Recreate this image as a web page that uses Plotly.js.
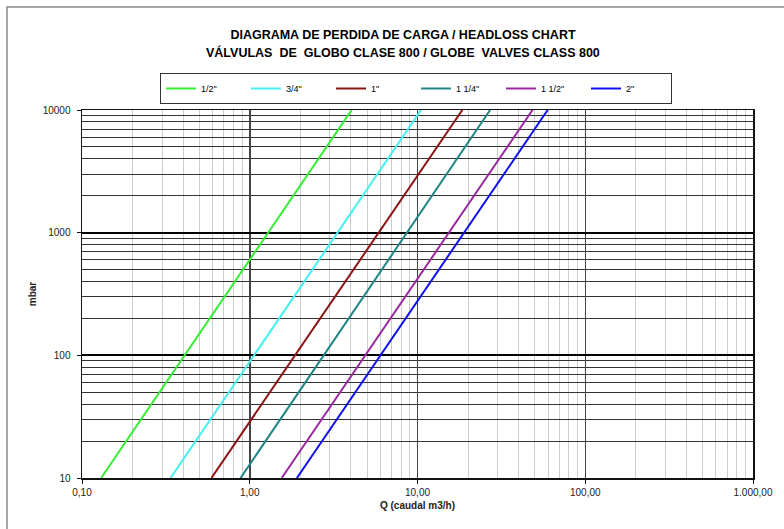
<!DOCTYPE html>
<html>
<head>
<meta charset="utf-8">
<script src="https://cdn.plot.ly/plotly-3.0.1.min.js"></script>
<style>html,body{margin:0;padding:0;background:#fff}#chart{width:784px;height:529px}</style>
</head>
<body>
<div id="chart"></div>
<script>
// Series names
const seriesNames = ['1/2"', '3/4"', '1"', '1 1/4"', '1 1/2"', '2"'];
// Headloss (mbar) at the two ends of every line
const headloss = [10, 10000];
// Flow Q (m3/h) read at 10 mbar and at 10000 mbar
const q_half = [0.130, 4.05];
const q_threeQuarter = [0.337, 10.5];
const q_one = [0.591, 18.5];
const q_oneQuarter = [0.881, 27.1];
const q_oneHalf = [1.55, 48.5];
const q_two = [1.91, 59.7];
const seriesQ = [q_half, q_threeQuarter, q_one, q_oneQuarter, q_oneHalf, q_two];
const seriesColors = ['#33ee33', '#44f0f0', '#8b1414', '#1f8585', '#99299c', '#1010ee'];
// Tick labels
const xTickVals = [0.1, 1, 10, 100, 1000];
const xTickText = ['0,10', '1,00', '10,00', '100,00', '1.000,00'];
const yTickVals = [10, 100, 1000, 10000];
const yTickText = ['10', '100', '1000', '10000'];
const titleLine1 = 'DIAGRAMA DE PERDIDA DE CARGA / HEADLOSS CHART';
const titleLine2 = 'VÁLVULAS  DE  GLOBO CLASE 800 / GLOBE  VALVES CLASS 800';

const traces = seriesNames.map((n, i) => ({
  type: 'scatter', mode: 'lines', name: n,
  x: seriesQ[i], y: headloss,
  line: {color: seriesColors[i], width: 2}
}));

const font = 'Liberation Sans, Arial, sans-serif';
const layout = {
  width: 784, height: 529,
  margin: {l: 82, r: 31, t: 110, b: 51},
  paper_bgcolor: '#fff', plot_bgcolor: '#fff',
  font: {family: font, size: 10, color: '#222'},
  title: {
    text: '<b>' + titleLine1 + '</b>',
    font: {family: font, size: 12.5, color: '#000'},
    x: 0.514, xref: 'container', xanchor: 'center',
    y: 1 - 35/529, yref: 'container', yanchor: 'middle'
  },
  annotations: [{
    text: '<b>' + titleLine2 + '</b>',
    font: {family: font, size: 12.5, color: '#000'},
    xref: 'paper', yref: 'paper', showarrow: false,
    x: (403 - 82) / 671, xanchor: 'center',
    y: (478 - 52) / 368, yanchor: 'middle'
  }],
  showlegend: true,
  legend: {
    orientation: 'h', x: (416 - 82) / 671, xanchor: 'center', y: (478 - 73) / 368, yanchor: 'top',
    bordercolor: '#333', borderwidth: 1, bgcolor: '#fff',
    font: {family: font, size: 9, color: '#000'},
    entrywidth: 40, itemwidth: 30, traceorder: 'normal'
  },
  xaxis: {
    type: 'log', range: [-1, 3],
    tickmode: 'array', tickvals: xTickVals, ticktext: xTickText,
    showgrid: true, gridcolor: '#444', gridwidth: 1.5,
    minor: {tickmode: 'linear', dtick: 'D1', showgrid: true, gridcolor: '#cccccc', gridwidth: 1, ticks: ''},
    showline: true, mirror: true, linecolor: '#111', linewidth: 1.5,
    ticks: 'outside', ticklen: 4, tickcolor: '#111',
    tickfont: {family: font, size: 10, color: '#222'},
    zeroline: false,
    title: {text: '<b>Q (caudal m3/h)</b>', font: {family: font, size: 10, color: '#222'}, standoff: 5}
  },
  yaxis: {
    type: 'log', range: [1, 4],
    tickmode: 'array', tickvals: yTickVals, ticktext: yTickText,
    showgrid: true, gridcolor: '#000', gridwidth: 2,
    minor: {tickmode: 'linear', dtick: 'D1', showgrid: true, gridcolor: '#333', gridwidth: 1, ticks: ''},
    showline: true, mirror: true, linecolor: '#111', linewidth: 1.5,
    ticks: 'outside', ticklen: 4, tickcolor: '#111', ticklabelstandoff: 4,
    tickfont: {family: font, size: 10, color: '#222'},
    zeroline: false,
    title: {text: '<b>mbar</b>', font: {family: font, size: 10, color: '#222'}, standoff: 4}
  },
  shapes: [{
    type: 'rect', xref: 'paper', yref: 'paper',
    x0: (7 - 82) / 671, x1: 1.2, y0: -0.3, y1: (478 - 7) / 368,
    line: {color: '#8a8a8a', width: 1.5}, fillcolor: 'rgba(0,0,0,0)', layer: 'below'
  }]
};

Plotly.newPlot('chart', traces, layout, {displayModeBar: false, staticPlot: true});
</script>
</body>
</html>
